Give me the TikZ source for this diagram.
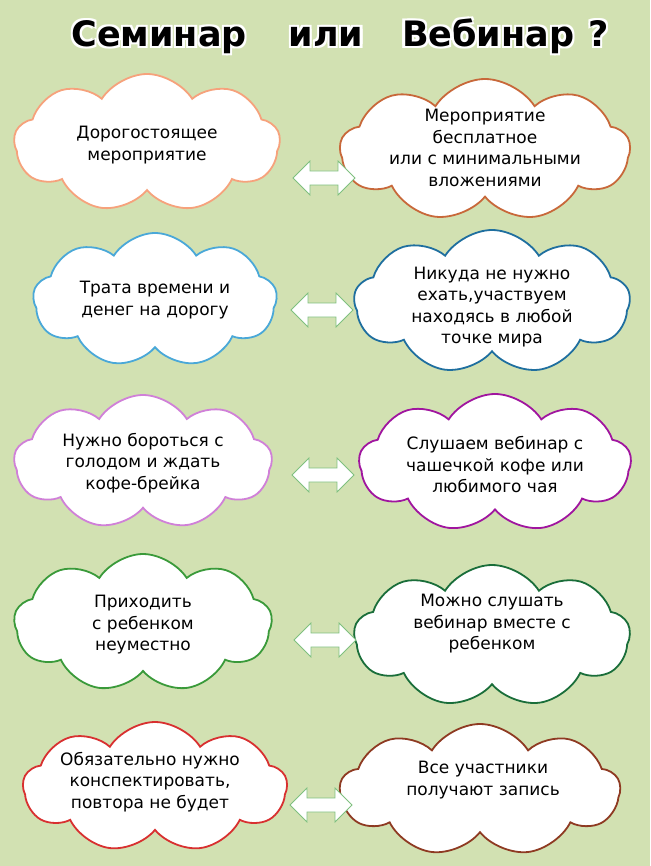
\documentclass[tikz,border=0pt]{standalone}
\usepackage{fontspec}
\setmainfont{DejaVu Sans}
\usetikzlibrary{shapes.symbols,calc}
\definecolor{bg}{HTML}{D2E1B2}
\definecolor{arr}{HTML}{7FC07F}
\definecolor{ca}{HTML}{F6A27C}
\definecolor{cb}{HTML}{C8683A}
\definecolor{cc}{HTML}{4AA8D8}
\definecolor{cd}{HTML}{1F6F9F}
\definecolor{ce}{HTML}{D080D8}
\definecolor{cf}{HTML}{A0159F}
\definecolor{cg}{HTML}{3A9A3A}
\definecolor{ch}{HTML}{1A6E3A}
\definecolor{ci}{HTML}{D83030}
\definecolor{cj}{HTML}{8E3A22}
\newcommand{\ttltext}{Семинар\hspace{1.2em}или\hspace{1.1em}Вебинар\hspace{0.4em}?}
\begin{document}
\begin{tikzpicture}[x=1pt,y=-1pt,
 cl/.style={cloud, cloud puffs=9, cloud puff arc=115, aspect=1.9, fill=white, draw=#1, line width=1.8pt, inner sep=0pt},
 tx/.style={align=center, font=\fontsize{17}{21.5}\selectfont, inner sep=0pt},
 ttl/.style={font=\bfseries\fontsize{35}{40}\selectfont},
 dbl/.pic={\draw[arr, fill=white, line width=0.8pt] (-31,0)--(-14,-17)--(-14,-7)--(14,-7)--(14,-17)--(31,0)--(14,17)--(14,7)--(-14,7)--(-14,17)--cycle;}]
\fill[bg] (0,0) rectangle (650,866);
\useasboundingbox (0,0) rectangle (650,866);
\foreach \a in {45,135,225,315}{\node[ttl, text=white] at ($(340,36)+(\a:3)$) {\ttltext};}
\node[ttl, text=black] (t) at (340,36) {\ttltext};
\node[cl=ca, minimum width=266, minimum height=138] (l1) at (147,143) {};
\node[tx] (l1t) at (147,145) {Дорогостоящее\\мероприятие};
\node[cl=cb, minimum width=290, minimum height=142] (r1) at (485,150) {};
\node[tx] (r1t) at (485,148) {Мероприятие\\бесплатное\\или с минимальными\\вложениями};
\node[cl=cc, minimum width=244, minimum height=134] (l2) at (155,300) {};
\node[tx] (l2t) at (155,300) {Трата времени и\\денег на дорогу};
\node[cl=cd, minimum width=276, minimum height=144] (r2) at (492,302) {};
\node[tx] (r2t) at (492,307) {Никуда не нужно\\ехать,участвуем\\находясь в любой\\точке мира};
\node[cl=ce, minimum width=258, minimum height=134] (l3) at (143,462) {};
\node[tx] (l3t) at (143,463) {Нужно бороться с\\голодом и ждать\\кофе-брейка};
\node[cl=cf, minimum width=272, minimum height=138] (r3) at (495,463) {};
\node[tx] (r3t) at (495,465) {Слушаем вебинар с\\чашечкой кофе или\\любимого чая};
\node[cl=cg, minimum width=258, minimum height=138] (l4) at (143,623) {};
\node[tx] (l4t) at (143,625) {Приходить\\с ребенком\\неуместно};
\node[cl=ch, minimum width=276, minimum height=142] (r4) at (492,636) {};
\node[tx] (r4t) at (492,624) {Можно слушать\\вебинар вместе с\\ребенком};
\node[cl=ci, minimum width=264, minimum height=130] (l5) at (155,787) {};
\node[tx] (l5t) at (150,782) {Обязательно нужно\\конспектировать,\\повтора не будет};
\node[cl=cj, minimum width=280, minimum height=132] (r5) at (480,790) {};
\node[tx] (r5t) at (483,780) {Все участники\\получают запись};
\pic at (324,178) {dbl};
\pic at (322,310) {dbl};
\pic at (323,475) {dbl};
\pic at (325,640) {dbl};
\pic at (321,805) {dbl};
\end{tikzpicture}
\end{document}
